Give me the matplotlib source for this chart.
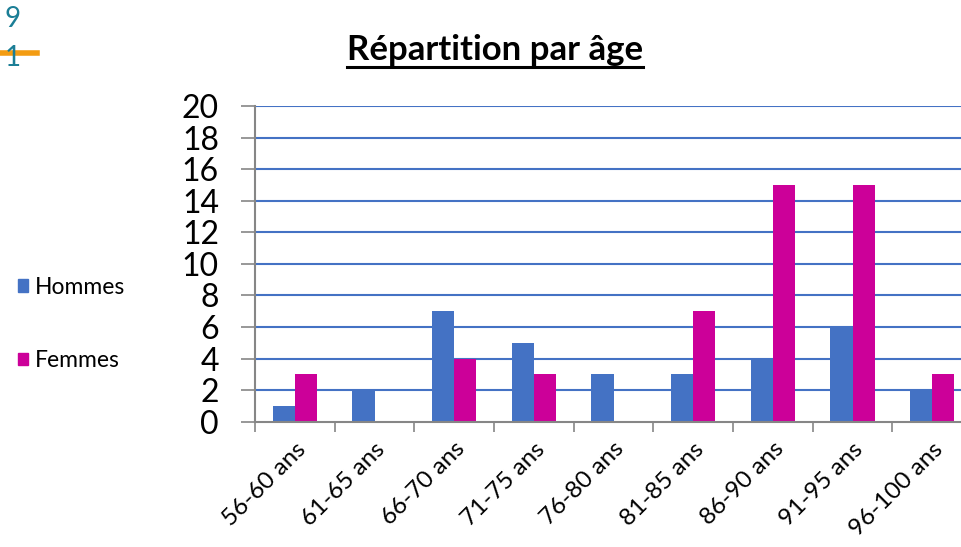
import matplotlib
matplotlib.use("Agg")
import matplotlib.pyplot as plt
import numpy as np
from matplotlib.lines import Line2D

categories = ["56-60 ans", "61-65 ans", "66-70 ans", "71-75 ans", "76-80 ans",
              "81-85 ans", "86-90 ans", "91-95 ans", "96-100 ans"]
hommes = [1, 2, 7, 5, 3, 3, 4, 6, 2]
femmes = [3, 0, 4, 3, 0, 7, 15, 15, 3]
series_names = ["Hommes", "Femmes"]
yticks = [0, 2, 4, 6, 8, 10, 12, 14, 16, 18, 20]

BLUE = "#4472C4"
MAGENTA = "#CC0099"
GRAY = "#868686"

plt.rcParams['font.family'] = ['Lato', 'DejaVu Sans']

W, H = 961, 547
fig = plt.figure(figsize=(W / 100, H / 100), dpi=100)

left = 255 / W
right = 972 / W
bottom = (H - 421.7) / H
top = (H - 106) / H
ax = fig.add_axes([left, bottom, right - left, top - bottom])

x = np.arange(len(categories))
bw = 0.28
ax.bar(x - bw / 2, hommes, width=bw, color=BLUE, zorder=3)
ax.bar(x + bw / 2, femmes, width=bw, color=MAGENTA, zorder=3)

ax.set_xlim(-0.5, len(categories) - 0.5)
ax.set_ylim(0, 20)
ax.set_yticks(yticks)
ax.set_yticklabels([str(v) for v in yticks], fontsize=23)
for y in yticks[1:]:
    ax.axhline(y, color=BLUE, lw=1.5, zorder=1)

ax.set_xticks(x)
ax.set_xticklabels(categories, rotation=45, ha='right', rotation_mode='anchor', fontsize=17.5)
ax.set_xticks(np.arange(len(categories) + 1) - 0.5, minor=True)
ax.tick_params(axis='x', which='major', length=0, pad=12)
ax.tick_params(axis='x', which='minor', length=7, width=1.2, color=GRAY, direction='out')
ax.tick_params(axis='y', which='major', length=10, width=1.2, color=GRAY, direction='out', pad=16)

for s in ['top', 'right']:
    ax.spines[s].set_visible(False)
for s in ['left', 'bottom']:
    ax.spines[s].set_color(GRAY)
    ax.spines[s].set_linewidth(1.5)
    ax.spines[s].set_zorder(4)

# Title with underline
t = fig.text(495 / W, (H - 50) / H, "Répartition par âge", ha='center', va='center',
             fontsize=25, fontweight='bold')
fig.canvas.draw()
bb = t.get_window_extent(fig.canvas.get_renderer())
fig.add_artist(Line2D([bb.x0 / W, bb.x1 / W], [(H - 67) / H, (H - 67) / H],
                      color='black', lw=2.2))

# Legend (left side)
handles = [plt.Rectangle((0, 0), 1, 1, color=BLUE), plt.Rectangle((0, 0), 1, 1, color=MAGENTA)]
fig.legend(handles, series_names, loc='center left', bbox_to_anchor=(-3 / W, (H - 324) / H),
           frameon=False, fontsize=16.5, handlelength=0.45, handleheight=0.45,
           handletextpad=0.3, labelspacing=2.3)

# Stray marks at top-left
TEAL = "#1B7E96"
fig.text(4 / W, (H - 19) / H, "9", color=TEAL, fontsize=20, va='center', ha='left')
fig.text(5 / W, (H - 58) / H, "1", color=TEAL, fontsize=20, va='center', ha='left')
fig.add_artist(Line2D([0, 37 / W], [(H - 53) / H, (H - 53) / H], color="#F39C12", lw=4))

fig.savefig("out.png", dpi=100)
